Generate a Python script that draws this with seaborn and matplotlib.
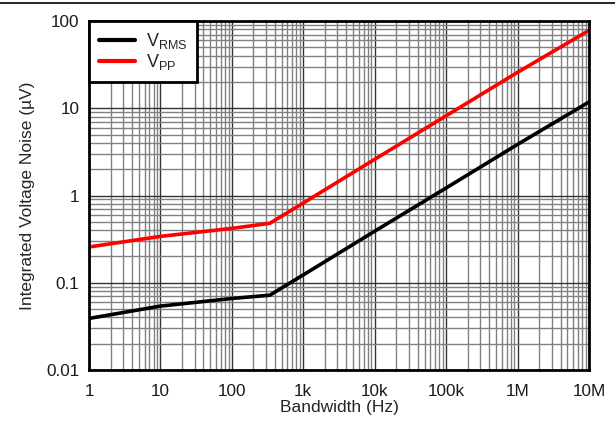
import matplotlib
matplotlib.use("Agg")
import matplotlib.pyplot as plt
from matplotlib.lines import Line2D
from matplotlib.ticker import LogLocator, FixedLocator
import numpy as np
import pandas as pd
import seaborn as sns

# Integrated noise versus measurement bandwidth
bandwidth_hz = [1, 10, 100, 340, 1e3, 1e4, 1e5, 1e6, 1e7]
v_rms_uv = [0.039, 0.054, 0.066, 0.072, 0.123, 0.39, 1.22, 3.85, 11.8]
v_pp_uv = [0.257, 0.34, 0.42, 0.48, 0.82, 2.6, 8.2, 25.8, 78]

series_labels = [r"V$_{\mathrm{RMS}}$", r"V$_{\mathrm{PP}}$"]
x_ticks = [1, 10, 100, 1e3, 1e4, 1e5, 1e6, 1e7]
x_tick_labels = ["1", "10", "100", "1k", "10k", "100k", "1M", "10M"]
y_ticks = [0.01, 0.1, 1, 10, 100]
y_tick_labels = ["0.01", "0.1", "1", "10", "100"]

df = pd.DataFrame({
    "Bandwidth": bandwidth_hz * 2,
    "Noise": v_rms_uv + v_pp_uv,
    "Series": [series_labels[0]] * len(bandwidth_hz) + [series_labels[1]] * len(bandwidth_hz),
})

sns.set_style("white")
plt.rcParams["font.family"] = ["Liberation Sans", "DejaVu Sans"]
plt.rcParams["mathtext.fontset"] = "custom"
plt.rcParams["mathtext.rm"] = "Liberation Sans"
plt.rcParams["mathtext.it"] = "Liberation Sans:italic"

fig = plt.figure(figsize=(6.15, 4.26), dpi=100)
ax = fig.add_axes([89 / 615, 1 - 370 / 426, 500 / 615, 349 / 426])

sns.lineplot(data=df, x="Bandwidth", y="Noise", hue="Series",
             palette=["#000000", "#ff0000"], linewidth=2.6, ax=ax,
             legend=False, zorder=5)

ax.set_xscale("log")
ax.set_yscale("log")
ax.set_xlim(1, 1e7)
ax.set_ylim(0.01, 100)

ax.xaxis.set_major_locator(FixedLocator(x_ticks))
ax.set_xticklabels(x_tick_labels)
ax.yaxis.set_major_locator(FixedLocator(y_ticks))
ax.set_yticklabels(y_tick_labels)
ax.xaxis.set_minor_locator(LogLocator(base=10, subs=np.arange(2, 10), numticks=20))
ax.yaxis.set_minor_locator(LogLocator(base=10, subs=np.arange(2, 10), numticks=20))

ax.grid(which="major", color="#333333", linewidth=1.0)
ax.grid(which="minor", color="#808080", linewidth=1.0)
ax.tick_params(which="both", length=0, labelsize=12.3, colors="#1a1a1a")
ax.tick_params(axis="x", pad=10)
ax.tick_params(axis="y", pad=7)

for s in ax.spines.values():
    s.set_visible(True)
    s.set_color("black")
    s.set_linewidth(2.0)
    s.set_zorder(10)

ax.set_xlabel("Bandwidth (Hz)", fontsize=12.5, labelpad=1)
ax.set_ylabel("Integrated Voltage Noise (\u00b5V)", fontsize=12.5, labelpad=8)

handles = [Line2D([], [], color="#000000", linewidth=3),
           Line2D([], [], color="#ff0000", linewidth=3)]
leg = ax.legend(handles, series_labels, loc="upper left", fontsize=13,
                frameon=True, fancybox=False, framealpha=1, edgecolor="black",
                borderaxespad=0, handlelength=2.0, handletextpad=0.6,
                borderpad=0.55, labelspacing=0.05)
leg.get_frame().set_linewidth(2.0)
leg.set_zorder(20)

# thin rule across the top of the figure
fig.add_artist(Line2D([0, 1], [1 - 2.5 / 426, 1 - 2.5 / 426], color="black",
                      linewidth=1.2, transform=fig.transFigure))

fig.savefig("out.png", dpi=100)
